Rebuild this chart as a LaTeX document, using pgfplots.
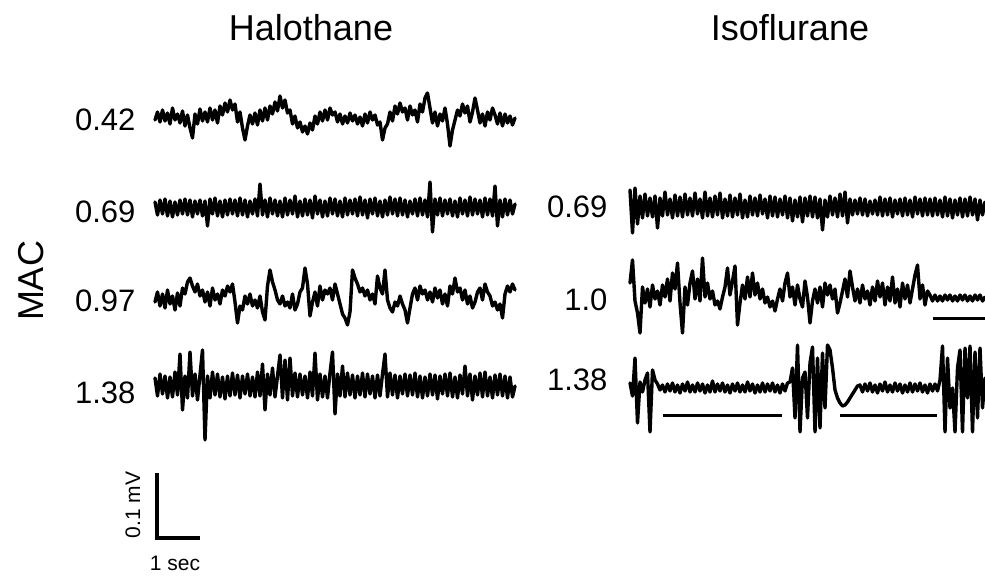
\documentclass[border=0pt]{standalone}
\usepackage{fontspec}
\setmainfont{Liberation Sans}
\usepackage{pgfplots}
\usepackage{pgfplotstable}
\pgfplotsset{compat=1.18}

% traces: deviation (px) from each baseline, one sample every 2.5 px
% Halothane 0.42
\pgfplotstableread[row sep=\\]{d\\
2\\ -6\\ 4\\ -8\\ 3\\ -5\\ 6\\ -10\\ 2\\ -4\\
5\\ -7\\ 8\\ -3\\ 10\\ 20\\ -4\\ 6\\ -9\\ 3\\
-6\\ 4\\ -10\\ 2\\ -8\\ 5\\ -12\\ -3\\ -15\\ -6\\
-18\\ -8\\ -14\\ 4\\ -6\\ 10\\ 22\\ 8\\ -3\\ 6\\
-5\\ 7\\ -8\\ 3\\ -10\\ 2\\ -12\\ -4\\ -16\\ -7\\
-22\\ -10\\ -18\\ -5\\ -8\\ 6\\ -2\\ 10\\ 4\\ 14\\
8\\ 16\\ 5\\ 12\\ -2\\ 6\\ -6\\ 3\\ -8\\ 2\\
-10\\ -3\\ -6\\ 4\\ -4\\ 6\\ -2\\ 5\\ -5\\ 3\\
-3\\ 6\\ -1\\ 8\\ -4\\ 5\\ -6\\ 2\\ -3\\ 7\\
4\\ 22\\ 10\\ 6\\ -6\\ 3\\ -12\\ -4\\ -15\\ -6\\
-10\\ 2\\ -12\\ -3\\ -8\\ 4\\ -14\\ -6\\ -20\\ -25\\
-10\\ 5\\ -6\\ 8\\ -4\\ 3\\ -10\\ 6\\ 28\\ 12\\
2\\ -8\\ -2\\ -14\\ -5\\ -12\\ 4\\ -6\\ -20\\ -8\\
5\\ -4\\ 8\\ -6\\ 2\\ -10\\ -3\\ 6\\ -5\\ 8\\
-4\\ 5\\ -2\\ 7\\ 0\\
}\halA
% Halothane 0.69
\pgfplotstableread[row sep=\\]{d\\
-6\\ 7\\ -8\\ 6\\ -9\\ 8\\ -7\\ 9\\ -6\\ 7\\
-8\\ 6\\ -9\\ 7\\ -8\\ 9\\ -7\\ 6\\ -8\\ 8\\
-7\\ 18\\ -9\\ 6\\ -10\\ 8\\ -7\\ 9\\ -8\\ 7\\
-9\\ 6\\ -8\\ 8\\ -10\\ 7\\ -8\\ 9\\ -7\\ 6\\
-9\\ 8\\ -24\\ 7\\ -8\\ 9\\ -10\\ 6\\ -8\\ 8\\
-7\\ 9\\ -10\\ 7\\ -8\\ 6\\ -12\\ 9\\ -7\\ 8\\
-9\\ 7\\ -8\\ 10\\ -12\\ 6\\ -8\\ 9\\ -7\\ 8\\
-10\\ 6\\ -9\\ 8\\ -7\\ 9\\ -10\\ 7\\ -8\\ 6\\
-9\\ 8\\ -11\\ 7\\ -8\\ 10\\ -9\\ 6\\ -10\\ 8\\
-7\\ 9\\ -8\\ 7\\ -11\\ 6\\ -9\\ 8\\ -10\\ 7\\
-8\\ 9\\ -7\\ 6\\ -9\\ 8\\ -10\\ 7\\ -8\\ 9\\
-26\\ 24\\ -9\\ 7\\ -10\\ 8\\ -8\\ 6\\ -9\\ 8\\
-7\\ 9\\ -10\\ 6\\ -8\\ 8\\ -11\\ 7\\ -9\\ 6\\
-8\\ 9\\ -10\\ 7\\ -9\\ 8\\ -22\\ 18\\ -8\\ 9\\
-9\\ 7\\ -8\\ 6\\ -4\\
}\halB
% Halothane 0.97
\pgfplotstableread[row sep=\\]{d\\
4\\ -6\\ 8\\ -4\\ 10\\ -8\\ 6\\ -2\\ 12\\ -5\\
8\\ -10\\ -4\\ -16\\ -20\\ -12\\ -6\\ -14\\ -2\\ -8\\
4\\ -6\\ 8\\ -10\\ 2\\ -4\\ 6\\ -8\\ -2\\ -12\\
-6\\ -14\\ 4\\ 25\\ 8\\ 12\\ -2\\ 6\\ -4\\ 8\\
2\\ 10\\ -2\\ 14\\ 22\\ -12\\ -28\\ -16\\ -8\\ 2\\
6\\ -2\\ 8\\ 4\\ 10\\ -4\\ 12\\ 6\\ -6\\ -10\\
-30\\ -14\\ 18\\ 4\\ -6\\ 8\\ -12\\ 2\\ -8\\ -4\\
-10\\ 2\\ -14\\ -4\\ 6\\ 16\\ 20\\ 27\\ 14\\ -28\\
-20\\ -14\\ -6\\ -10\\ -2\\ -8\\ 2\\ -4\\ 6\\ -22\\
-10\\ -4\\ -28\\ 2\\ 10\\ 14\\ 4\\ 8\\ -2\\ 6\\
12\\ 25\\ 10\\ -4\\ -10\\ 2\\ -12\\ -4\\ -8\\ 2\\
-6\\ 4\\ -10\\ 0\\ -8\\ 6\\ -4\\ 8\\ -12\\ -4\\
-20\\ -6\\ -10\\ 2\\ -8\\ 6\\ -2\\ 10\\ 4\\ -6\\
-10\\ 2\\ -14\\ -6\\ -2\\ 8\\ 4\\ 12\\ 6\\ 20\\
-4\\ -12\\ -6\\ -14\\ -8\\
}\halC
% Halothane 1.38
\pgfplotstableread[row sep=\\]{d\\
-8\\ 10\\ -12\\ 8\\ -10\\ 12\\ -9\\ 11\\ -14\\ 9\\
-32\\ 24\\ -10\\ 12\\ -34\\ 10\\ -12\\ 14\\ -11\\ -36\\
54\\ -10\\ 12\\ -14\\ 9\\ -12\\ 11\\ -9\\ 13\\ -10\\
10\\ -13\\ 9\\ -11\\ 12\\ -10\\ 8\\ -12\\ 10\\ -9\\
11\\ -14\\ 10\\ -22\\ 24\\ -12\\ 9\\ -18\\ 11\\ -10\\
-31\\ 12\\ -26\\ 14\\ -28\\ 10\\ -13\\ 11\\ -12\\ 9\\
-10\\ 12\\ -14\\ 10\\ -33\\ 14\\ -12\\ 11\\ -10\\ 12\\
-13\\ -34\\ 28\\ -12\\ 10\\ -20\\ 11\\ -13\\ 9\\ -11\\
12\\ -10\\ 9\\ -13\\ 11\\ -12\\ 8\\ -10\\ 12\\ -11\\
10\\ -12\\ -32\\ 11\\ -13\\ 9\\ -11\\ 12\\ -10\\ 8\\
-12\\ 10\\ -11\\ 9\\ -13\\ 11\\ -10\\ 12\\ -9\\ 10\\
-12\\ 9\\ -11\\ 13\\ -10\\ 8\\ -12\\ 10\\ -13\\ 11\\
-9\\ 12\\ -11\\ 8\\ -20\\ 10\\ -12\\ 14\\ -10\\ 9\\
-13\\ 11\\ -14\\ 10\\ -9\\ 12\\ -11\\ 9\\ -12\\ 10\\
-10\\ 12\\ -9\\ 11\\ 0\\
}\halD
% Isoflurane 0.69
\pgfplotstableread[row sep=\\]{d\\
-18\\ 25\\ -20\\ 16\\ -12\\ 10\\ -14\\ 8\\ -10\\ 9\\
-12\\ 20\\ -10\\ 8\\ -16\\ 7\\ -9\\ 10\\ -13\\ 8\\
-11\\ 9\\ -14\\ 7\\ -10\\ 8\\ -15\\ 6\\ -9\\ 10\\
-16\\ 8\\ -10\\ 9\\ -12\\ 7\\ -15\\ 10\\ -9\\ 8\\
-13\\ 9\\ -10\\ 7\\ -14\\ 10\\ -8\\ 9\\ -12\\ 7\\
-10\\ 8\\ -13\\ 6\\ -9\\ 10\\ -12\\ 8\\ -11\\ 9\\
-9\\ 7\\ -12\\ 10\\ -10\\ 13\\ -8\\ 9\\ -11\\ 14\\
-10\\ 8\\ -12\\ 9\\ -11\\ 10\\ -9\\ 22\\ -8\\ 9\\
-12\\ 7\\ -10\\ 9\\ -14\\ 8\\ -16\\ 15\\ -9\\ 7\\
-8\\ 6\\ -10\\ 7\\ -9\\ 8\\ -7\\ 6\\ -8\\ 7\\
-11\\ 8\\ -9\\ 7\\ -10\\ 9\\ -8\\ 6\\ -9\\ 8\\
-10\\ 7\\ -8\\ 9\\ -11\\ 6\\ -9\\ 8\\ -10\\ 7\\
-9\\ 8\\ -10\\ 7\\ -8\\ 9\\ -11\\ 8\\ -9\\ 10\\
-8\\ 7\\ -10\\ 9\\ -9\\ 8\\ -11\\ 7\\ -9\\ 12\\
-8\\ 7\\ -6\\
}\isoA
% Isoflurane 1.0
\pgfplotstableread[row sep=\\]{d\\
-10\\ -33\\ 8\\ 20\\ 40\\ -6\\ 10\\ -4\\ 14\\ -8\\
6\\ -2\\ 12\\ -8\\ 4\\ -14\\ 8\\ -20\\ -4\\ -30\\
10\\ 40\\ -6\\ 12\\ -10\\ -22\\ 6\\ -14\\ 8\\ -35\\
4\\ -10\\ 6\\ -2\\ 12\\ 8\\ 16\\ 4\\ -6\\ -25\\
2\\ -12\\ -27\\ 32\\ 10\\ -8\\ 6\\ -16\\ 4\\ -20\\
2\\ -10\\ 6\\ -4\\ 10\\ 4\\ 14\\ 8\\ 18\\ 6\\
-4\\ 8\\ -10\\ -20\\ 4\\ -6\\ 12\\ -8\\ 6\\ 14\\
-12\\ 4\\ 30\\ 8\\ -4\\ 10\\ -6\\ 14\\ -10\\ 2\\
-8\\ 6\\ -4\\ 20\\ 10\\ -2\\ -14\\ 4\\ -22\\ -6\\
8\\ -4\\ 10\\ -8\\ 6\\ -2\\ 12\\ -6\\ 8\\ -12\\
4\\ -10\\ 12\\ -6\\ 8\\ -16\\ 10\\ -4\\ 14\\ -10\\
6\\ -8\\ 10\\ -4\\ -18\\ -28\\ 6\\ -8\\ 12\\ -2\\
2\\ 8\\ 2\\ 8\\ 3\\ 8\\ 2\\ 7\\ 2\\ 8\\
3\\ 8\\ 2\\ 7\\ 2\\ 8\\ 3\\ 8\\ 2\\ 7\\
2\\ 8\\ 4\\
}\isoB
% Isoflurane 1.38
\pgfplotstableread[row sep=\\]{d\\
-5\\ 8\\ -30\\ 35\\ -6\\ 4\\ -8\\ -15\\ 44\\ -18\\
-8\\ -4\\ 2\\
-3\\ 4\\ -4\\ 3\\ -5\\ 4\\ -3\\ 5\\ -4\\ 3\\
-6\\ 4\\ -3\\ 4\\ -5\\ 3\\ -4\\ 5\\ -3\\ 4\\
-7\\ 4\\ -4\\ 3\\ -5\\ 4\\ -3\\ 5\\ -4\\ 3\\
-5\\ 4\\ -3\\ 4\\ -6\\ 3\\ -4\\ 5\\ -3\\ 4\\
-5\\ 4\\ -4\\ 3\\ -5\\ 4\\ -3\\ 5\\ -4\\ 3\\
-5\\
-6\\ -20\\ 30\\ -43\\ 44\\ -10\\ -16\\ 30\\ -25\\ -41\\
44\\ -30\\ 40\\ -35\\ 20\\ -43\\ -38\\ -20\\
2\\ 10\\ 15\\ 18\\ 17\\ 14\\ 10\\ 6\\ 2\\ -2\\
-3\\ 4\\ -4\\ 3\\ -5\\ 4\\ -3\\ 5\\ -4\\ 3\\
-6\\ 4\\ -3\\ 4\\ -5\\ 3\\ -4\\ 5\\ -3\\ 4\\
-5\\ 4\\ -4\\ 3\\ -5\\ 4\\ -3\\ 5\\ -4\\ 3\\
-4\\ 3\\
-8\\ -42\\ 44\\ -30\\ 20\\ 0\\ 44\\ -20\\ -38\\ 44\\
-40\\ 10\\ -42\\ 44\\ -36\\ 30\\ -40\\ 20\\ -10\\
}\isoC

\begin{document}
\begin{tikzpicture}
\begin{axis}[
    width=985pt, height=577pt, scale only axis,
    xmin=0, xmax=985, ymin=0, ymax=577, y dir=reverse,
    ticks=none, axis line style={draw=none},
    trace/.style={black, line width=3.4pt, line join=round, line cap=round, mark=none},
]
\addplot[trace] table[x index=0, y index=0, x expr={155+2.5*\coordindex}, y expr={118+\thisrow{d}}] {\halA};
\addplot[trace] table[x index=0, y index=0, x expr={155+2.5*\coordindex}, y expr={208+\thisrow{d}}] {\halB};
\addplot[trace] table[x index=0, y index=0, x expr={155+2.5*\coordindex}, y expr={298+\thisrow{d}}] {\halC};
\addplot[trace] table[x index=0, y index=0, x expr={155+2.5*\coordindex}, y expr={386+\thisrow{d}}] {\halD};
\addplot[trace] table[x index=0, y index=0, x expr={630+2.5*\coordindex}, y expr={208+\thisrow{d}}] {\isoA};
\addplot[trace] table[x index=0, y index=0, x expr={630+2.5*\coordindex}, y expr={293+\thisrow{d}}] {\isoB};
\addplot[trace] table[x index=0, y index=0, x expr={630+2.5*\coordindex}, y expr={388+\thisrow{d}}] {\isoC};

% burst-suppression bars
\addplot[black, line width=3pt] coordinates {(663,415) (782,415)};
\addplot[black, line width=3pt] coordinates {(840,415) (937,415)};
\addplot[black, line width=3pt] coordinates {(933,318) (985,318)};
% scale bar
\addplot[black, line width=4pt, line join=miter] coordinates {(157,473) (157,538) (200,538)};

\node[anchor=base, font=\fontsize{36}{40}\selectfont] at (311,41) {Halothane};
\node[anchor=base, font=\fontsize{36}{40}\selectfont] at (790,41) {Isoflurane};
\node[anchor=base, rotate=90, font=\fontsize{36}{40}\selectfont] at (43,281) {MAC};

\node[anchor=base east, font=\fontsize{31}{34}\selectfont] at (139,131) {0.42};
\node[anchor=base east, font=\fontsize{31}{34}\selectfont] at (139,223) {0.69};
\node[anchor=base east, font=\fontsize{31}{34}\selectfont] at (139,312) {0.97};
\node[anchor=base east, font=\fontsize{31}{34}\selectfont] at (139,403) {1.38};
\node[anchor=base east, font=\fontsize{31}{34}\selectfont] at (611,218) {0.69};
\node[anchor=base east, font=\fontsize{31}{34}\selectfont] at (611,310) {1.0};
\node[anchor=base east, font=\fontsize{31}{34}\selectfont] at (611,390) {1.38};

\node[anchor=base, rotate=90, font=\fontsize{21}{24}\selectfont] at (140,505) {0.1 mV};
\node[anchor=base, font=\fontsize{21}{24}\selectfont] at (175,570) {1 sec};
\end{axis}
\end{tikzpicture}
\end{document}
